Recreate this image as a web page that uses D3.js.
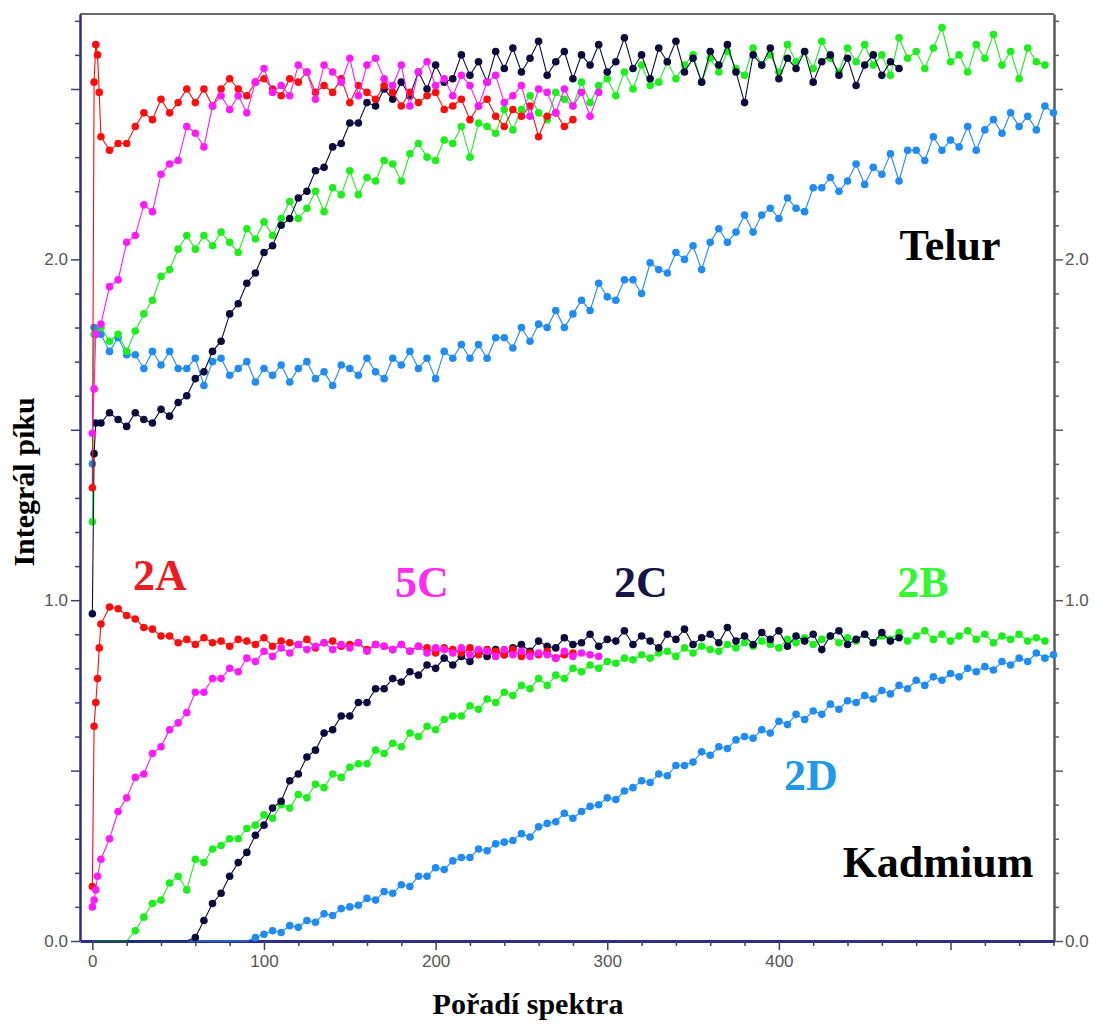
<!DOCTYPE html>
<html><head><meta charset="utf-8">
<script src="https://cdn.jsdelivr.net/npm/d3@7"></script>
<style>body{margin:0;background:#fff}svg{display:block}</style>
</head><body>
<svg id="c" width="1099" height="1026"></svg>
<script>
// ---- DATA (x = spectrum index; head points explicit, then every 5th spectrum) ----
const STEP = 5;
const seriesNames = ["2D", "2B", "2C", "2A", "5C"];
const xTickLabels = ["0", "100", "200", "300", "400"];
const yTickLabels = ["0.0", "1.0", "2.0"];
const annotations = ["Telur", "Kadmium"];

// Telur (upper group)
const tel2A_head = [[0,1.33],[1,2.52],[2,2.63],[3,2.60],[4,2.49]];
const tel2A = [2.36,2.32,2.34,2.34,2.39,2.43,2.41,2.47,2.43,2.46,2.50,2.46,2.50,2.45,2.50,2.53,2.50,2.48,2.52,2.53,2.50,2.48,2.53,2.52,2.55,2.49,2.51,2.49,2.53,2.46,2.51,2.49,2.47,2.51,2.49,2.45,2.49,2.46,2.48,2.49,2.44,2.45,2.47,2.41,2.45,2.47,2.42,2.39,2.44,2.42,2.45,2.36,2.42,2.43,2.39,2.41];
const tel5C_head = [[0,1.49],[1,1.62],[2,1.78]];
const tel5C = [1.81,1.92,1.94,2.05,2.07,2.16,2.14,2.25,2.28,2.29,2.39,2.37,2.33,2.45,2.48,2.44,2.48,2.43,2.52,2.56,2.49,2.51,2.48,2.57,2.55,2.47,2.57,2.55,2.52,2.59,2.48,2.57,2.59,2.53,2.51,2.57,2.45,2.55,2.58,2.51,2.53,2.48,2.54,2.51,2.45,2.52,2.54,2.46,2.48,2.51,2.42,2.50,2.49,2.43,2.50,2.45,2.49,2.42,2.49];
const tel2C_head = [[0,0.96],[1,1.43],[2,1.52]];
const tel2C = [1.52,1.55,1.53,1.51,1.55,1.53,1.52,1.56,1.54,
  1.58,1.60,1.65,1.67,1.73,1.76,1.84,1.87,1.93,1.96,2.02,2.04,2.10,2.12,2.18,2.20,2.26,2.27,2.33,2.34,2.40,2.40,2.46,2.45,2.50,2.47,
  2.52,2.48,2.55,2.50,2.57,2.52,2.53,2.60,2.54,2.58,2.52,2.61,2.56,2.62,2.55,2.59,2.64,2.54,2.58,2.61,2.53,2.60,2.57,2.63,2.55,2.58,2.65,2.56,2.60,2.53,2.62,2.58,2.64,2.55,2.59,2.52,2.61,2.57,2.63,2.55,2.46,2.60,2.57,2.62,2.53,2.59,2.56,2.61,2.52,2.58,2.60,2.54,2.59,2.51,2.57,2.60,2.54,2.58,2.56];
const tel2B_head = [[0,1.23],[1,1.78]];
const tel2B = [1.80,1.76,1.78,1.73,1.79,1.84,1.88,1.95,1.97,2.03,2.07,
  2.03,2.07,2.04,2.08,2.05,2.02,2.09,2.06,
  2.11,2.07,2.12,2.17,2.12,2.15,2.20,2.14,2.21,2.19,2.26,2.19,2.24,2.23,2.29,2.28,2.23,2.31,2.34,2.30,2.29,2.35,2.34,2.39,2.30,2.40,2.39,2.37,2.44,2.38,2.44,2.48,2.43,2.41,2.49,2.47,2.45,2.52,2.46,2.51,2.53,
  2.48,2.55,2.50,2.57,2.51,2.52,2.58,2.53,2.57,2.60,2.52,2.59,2.55,2.61,2.56,2.54,2.62,2.57,2.60,2.55,2.63,2.58,2.61,2.56,2.64,2.59,2.55,2.62,2.58,2.63,2.57,2.60,2.54,2.65,2.59,2.61,2.56,2.62,2.68,2.58,2.60,2.55,2.63,2.59,2.66,2.57,2.61,2.53,2.62,2.58,2.57];
const tel2D_head = [[0,1.40],[1,1.80],[2,1.78]];
const tel2D = [1.78,1.73,1.77,1.72,1.72,1.68,1.73,1.69,1.73,1.68,1.68,1.71,1.63,1.70,1.71,1.66,1.68,1.70,1.64,1.68,
  1.66,1.69,1.64,1.68,1.70,1.65,1.67,1.63,1.69,1.68,1.66,1.71,1.67,1.65,1.71,1.69,1.73,1.68,1.71,1.65,1.73,1.71,1.75,1.71,1.75,1.71,1.77,1.77,1.74,1.80,
  1.76,1.81,1.80,1.85,1.80,1.84,1.88,1.85,1.93,1.89,1.88,1.94,1.94,1.90,1.99,1.97,1.96,2.02,2.00,2.04,1.97,2.05,2.09,2.05,2.08,2.13,2.08,2.13,2.15,2.12,2.18,2.15,2.14,2.21,2.21,2.24,2.20,2.23,2.28,2.22,2.27,2.25,2.31,2.23,2.32,2.32,2.29,2.36,2.32,2.35,2.33,2.39,2.32,2.38,2.41,2.37,2.43,2.39,2.42,2.38,2.45,2.43];

// Kadmium (lower group)
const cd2A_head = [[0,0.16],[1,0.63],[2,0.70],[3,0.77],[4,0.86]];
const cd2A = [0.93,0.98,0.975,0.955,0.945,0.92,0.915,0.895,0.895,0.875,0.885,0.87,0.89,0.875,0.88,0.865,0.885,0.88,0.87,0.89,0.865,0.88,0.875,0.87,0.885,0.86,0.875,0.88,0.865,0.87,0.875,0.855,0.87,0.865,0.855,0.87,0.85,0.865,0.86,0.845,0.86,0.855,0.845,0.86,0.84,0.855,0.85,0.84,0.855,0.835,0.845,0.84,0.85,0.83,0.84,0.845];
const cd5C_head = [[0,0.10],[1,0.12],[2,0.15],[3,0.19]];
const cd5C = [0.24,0.30,0.38,0.42,0.48,0.49,0.55,0.57,0.62,0.64,0.67,0.73,0.73,0.77,0.77,0.80,0.79,0.83,0.82,0.85,0.835,0.86,0.845,0.87,0.855,0.865,0.875,0.855,0.87,0.86,0.875,0.85,0.87,0.865,0.855,0.87,0.85,0.865,0.845,0.86,0.855,0.845,0.86,0.84,0.855,0.85,0.835,0.855,0.84,0.85,0.835,0.845,0.84,0.83,0.85,0.835,0.845,0.84,0.835];
const cd2C_head = [];
const cd2C = [0,0,0,0,0,0,0,0,0,0,0,0,
  0.01,0.06,0.11,0.14,0.19,0.23,0.26,0.31,0.34,0.39,0.41,0.47,0.49,0.54,0.56,0.61,0.62,0.66,0.66,0.70,0.70,0.74,0.74,0.77,0.76,0.79,0.78,0.81,0.80,0.83,0.81,0.835,0.82,0.85,0.835,0.855,0.84,
  0.86,0.87,0.85,0.88,0.865,0.86,0.89,0.87,0.875,0.90,0.865,0.885,0.88,0.91,0.87,0.895,0.88,0.86,0.90,0.885,0.915,0.87,0.89,0.90,0.875,0.92,0.88,0.895,0.87,0.905,0.885,0.91,0.865,0.895,0.88,0.90,0.855,0.895,0.91,0.87,0.885,0.90,0.875,0.905,0.88,0.89];
const cd2B_head = [];
const cd2B = [0,0,0,0,0,
  0.03,0.07,0.11,0.12,0.17,0.19,0.15,0.24,0.23,0.27,0.28,0.30,0.30,0.33,0.34,0.37,0.36,0.40,0.39,0.43,0.42,0.46,0.45,0.49,0.48,0.51,0.52,0.52,0.56,0.55,0.58,0.57,0.61,0.60,0.63,0.62,0.65,0.66,0.66,0.69,0.68,0.71,0.70,0.73,0.72,0.75,0.74,0.77,0.75,0.78,0.77,0.80,0.79,0.81,0.80,0.82,
  0.815,0.83,0.825,0.84,0.83,0.845,0.85,0.835,0.86,0.845,0.865,0.855,0.85,0.87,0.86,0.875,0.865,0.88,0.87,0.86,0.885,0.875,0.89,0.87,0.885,0.895,0.875,0.89,0.88,0.90,0.875,0.895,0.885,0.905,0.88,0.895,0.91,0.885,0.90,0.88,0.895,0.91,0.885,0.90,0.875,0.895,0.885,0.90,0.88,0.89,0.88];
const cd2D_head = [];
const cd2D = [0,0,0,0,0,0,0,0,0,0,0,0,0,0,0,0,0,0,0,
  0.01,0.02,0.03,0.025,0.045,0.04,0.06,0.055,0.08,0.075,0.095,0.10,0.105,0.125,0.12,0.145,0.14,0.165,0.16,0.19,0.19,0.215,0.21,0.235,0.245,0.245,0.27,0.265,0.285,0.29,0.295,0.315,0.305,0.335,0.345,0.35,0.375,0.36,0.38,0.395,0.40,0.42,0.415,0.44,0.45,0.47,0.465,0.49,0.485,0.515,0.515,0.525,0.555,0.545,0.57,0.565,0.59,0.60,0.595,0.62,0.61,0.645,0.635,0.665,0.65,0.675,0.665,0.695,0.68,0.705,0.70,0.72,0.71,0.735,0.725,0.75,0.74,0.765,0.75,0.775,0.765,0.785,0.775,0.80,0.79,0.805,0.795,0.82,0.81,0.83,0.82,0.845,0.83,0.84];

// ---- STYLE ----
const colors = {"2A":"#ff0d0d","5C":"#ff1aff","2C":"#0b0b3d","2B":"#1bf01b","2D":"#1f8bf5"};
const labelColors = {"2A":"#ec1c24","5C":"#ff2bf0","2C":"#141446","2B":"#35f535","2D":"#1f9ae6"};

const groups = [
  {name:"Telur", data:{"2A":[tel2A_head,tel2A,5],"5C":[tel5C_head,tel5C,5],"2C":[tel2C_head,tel2C,5],"2B":[tel2B_head,tel2B,5],"2D":[tel2D_head,tel2D,5]}},
  {name:"Kadmium", data:{"2A":[cd2A_head,cd2A,5],"5C":[cd5C_head,cd5C,5],"2C":[cd2C_head,cd2C,0],"2B":[cd2B_head,cd2B,0],"2D":[cd2D_head,cd2D,0]}}
];

const svg = d3.select("#c");
const L = 80, R = 1054, T = 14, B = 941;
const x = d3.scaleLinear().domain([-7.2, 560.3]).range([L, R]);
const y = d3.scaleLinear().domain([0, 2.72]).range([B, T]);

const fontSans = "'Liberation Sans', Arial, sans-serif";
const fontSerif = "'Liberation Serif', 'Times New Roman', serif";

// frame top
svg.append("line").attr("x1",L).attr("x2",R).attr("y1",T).attr("y2",T).attr("stroke","#6a6a6a").attr("stroke-width",2);

const yTicks = d3.range(0, 28).map(i => i / 10);
const isHalf = d => Math.abs(d * 2 - Math.round(d * 2)) < 1e-9;
const isInt = d => Math.abs(d - Math.round(d)) < 1e-9;
const yFmt = d => (isInt(d) && yTickLabels.includes(d.toFixed(1))) ? d.toFixed(1) : "";

// left axis
const gl = svg.append("g").attr("transform",`translate(${L},0)`)
  .call(d3.axisLeft(y).tickValues(yTicks).tickSize(5).tickSizeOuter(0).tickFormat(yFmt));
gl.select(".domain").attr("stroke","#2e2e88").attr("stroke-width",2.5);
gl.selectAll(".tick line").attr("stroke","#404060").attr("stroke-width",1.5).attr("x2", d => isHalf(d) ? -9 : -5);
gl.selectAll(".tick text").attr("x",-12).attr("font-family",fontSans).attr("font-size",17).attr("fill","#555");

// right axis
const gr = svg.append("g").attr("transform",`translate(${R},0)`)
  .call(d3.axisRight(y).tickValues(yTicks).tickSize(5).tickSizeOuter(0).tickFormat(yFmt));
gr.select(".domain").attr("stroke","#5a5a5a").attr("stroke-width",2.5);
gr.selectAll(".tick line").attr("stroke","#5a5a5a").attr("stroke-width",1.5).attr("x2", d => isHalf(d) ? 9 : 5);
gr.selectAll(".tick text").attr("x",11).attr("font-family",fontSans).attr("font-size",17).attr("fill","#555");

// bottom axis
const xTicks = d3.range(0, 561, 20);
const gb = svg.append("g").attr("transform",`translate(0,${B})`)
  .call(d3.axisBottom(x).tickValues(xTicks).tickSize(5).tickSizeOuter(0)
        .tickFormat(d => xTickLabels.includes(String(d)) ? String(d) : ""));
gb.select(".domain").attr("stroke","#2e2e88").attr("stroke-width",3);
gb.selectAll(".tick line").attr("stroke","#404060").attr("stroke-width",1.5).attr("y2", d => d % 100 === 0 ? 9 : 5);
gb.selectAll(".tick text").attr("y",14).attr("font-family",fontSans).attr("font-size",17).attr("fill","#555");

// series
const line = d3.line().x(d => x(d.x)).y(d => y(d.y));
const plot = svg.append("g");
groups.forEach(g => {
  seriesNames.forEach(s => {
    const [head, vals, start] = g.data[s];
    const pts = head.map(([a, b]) => ({x: a, y: b}))
      .concat(vals.map((v, i) => ({x: start + i * STEP, y: v})));
    const gg = plot.append("g");
    gg.append("path").datum(pts).attr("d", line).attr("fill","none")
      .attr("stroke", colors[s]).attr("stroke-width", 1.1);
    gg.selectAll("circle").data(pts.filter(p => p.y > 0)).join("circle")
      .attr("cx", d => x(d.x)).attr("cy", d => y(d.y)).attr("r", 3.8)
      .attr("fill", colors[s]);
  });
});

// series labels
const labelPos = {"2A":[160,590],"5C":[422,597],"2C":[641,597],"2B":[923,597],"2D":[811,790]};
seriesNames.forEach(s => {
  svg.append("text").attr("x", labelPos[s][0]).attr("y", labelPos[s][1])
    .attr("text-anchor","middle").attr("font-family",fontSerif).attr("font-weight","bold")
    .attr("font-size",44).attr("fill",labelColors[s]).text(s);
});

// group annotations
svg.append("text").attr("x",950).attr("y",260).attr("text-anchor","middle")
  .attr("font-family",fontSerif).attr("font-weight","bold").attr("font-size",44).attr("fill","#000").text(annotations[0]);
svg.append("text").attr("x",938).attr("y",877).attr("text-anchor","middle")
  .attr("font-family",fontSerif).attr("font-weight","bold").attr("font-size",44).attr("fill","#000").text(annotations[1]);

// axis titles
svg.append("text").attr("transform","translate(34,482) rotate(-90)").attr("text-anchor","middle")
  .attr("font-family",fontSerif).attr("font-weight","bold").attr("font-size",30).attr("fill","#000").text("Integrál píku");
svg.append("text").attr("x",528).attr("y",1014).attr("text-anchor","middle")
  .attr("font-family",fontSerif).attr("font-weight","bold").attr("font-size",30).attr("fill","#000").text("Pořadí spektra");
</script>
</body></html>
